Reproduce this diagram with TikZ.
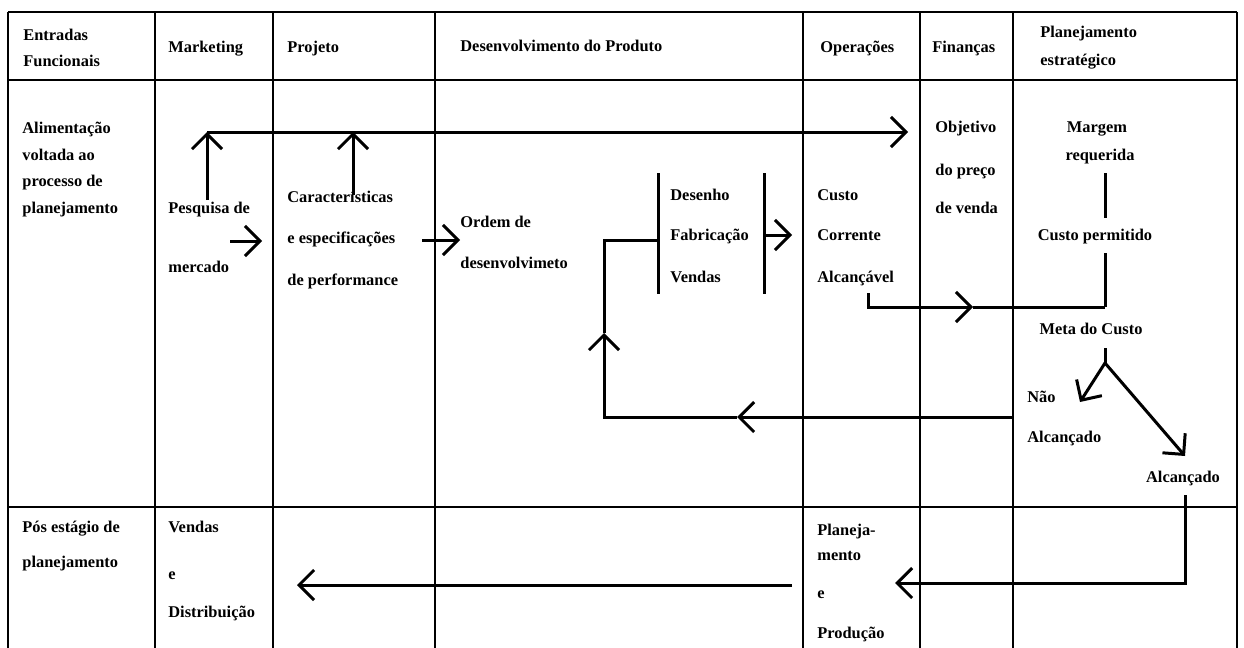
\documentclass[tikz,border=0pt]{standalone}
\usepackage{fontspec}
\setmainfont{Liberation Serif}
\usetikzlibrary{arrows.meta}
\tikzset{
lbl/.style={anchor=base west, inner sep=0pt, font=\bfseries\fontsize{8.2}{10}\selectfont}, % left aligned text
clbl/.style={lbl, anchor=base}, % centred text
grid/.style={line width=1.2pt}, % lines of the table
link/.style={line width=1.5pt, line join=miter}, % plain connector
arr/.style={link, -{Straight Barb[length=7.5pt,width=15pt,line width=1.5pt]}}, % connector with open tip
}

\begin{document}
\begin{tikzpicture}[x=0.5pt, y=-0.5pt]
\useasboundingbox (0,0) rectangle (1244,648);

% table
\draw[grid] (8,12) -- (1237,12);
\draw[grid] (8,80) -- (1237,80);
\draw[grid] (8,507) -- (1237,507);
\foreach \x in {8,155,273,435,803,920,1013,1237}
  \draw[grid] (\x,12) -- (\x,648);

% header
\node[lbl] at (23,40) (hEnt) {Entradas};
\node[lbl] at (23,66) (hFun) {Funcionais};
\node[lbl] at (168,53) (hMkt) {Marketing};
\node[lbl] at (287,53) (hPrj) {Projeto};
\node[lbl] at (460,52) (hDev) {Desenvolvimento do Produto};
\node[lbl] at (820,53) (hOpe) {Operações};
\node[lbl] at (932,53) (hFin) {Finanças};
\node[lbl] at (1040,37) (hPla) {Planejamento};
\node[lbl] at (1040,65) (hEst) {estratégico};

% planning stage
\node[lbl] at (22,133) (ali1) {Alimentação};
\node[lbl] at (22,160) (ali2) {voltada ao};
\node[lbl] at (22,186) (ali3) {processo de};
\node[lbl] at (22,213) (ali4) {planejamento};
\node[lbl] at (168,213) (pesq1) {Pesquisa de};
\node[lbl] at (168,272) (pesq2) {mercado};
\node[lbl] at (287,202) (car1) {Características};
\node[lbl] at (287,243) (car2) {e especificações};
\node[lbl] at (287,285) (car3) {de performance};
\node[lbl] at (460,227) (ord1) {Ordem de};
\node[lbl] at (460,268) (ord2) {desenvolvimeto};
\node[lbl] at (670,200) (des) {Desenho};
\node[lbl] at (670,240) (fab) {Fabricação};
\node[lbl] at (670,282) (ven) {Vendas};
\node[lbl] at (817,200) (cus1) {Custo};
\node[lbl] at (817,240) (cus2) {Corrente};
\node[lbl] at (817,282) (cus3) {Alcançável};
\node[lbl] at (935,132) (obj1) {Objetivo};
\node[lbl] at (935,175) (obj2) {do preço};
\node[lbl] at (935,213) (obj3) {de venda};
\node[clbl] at (1097,132) (mrg1) {Margem};
\node[clbl] at (1100,160) (mrg2) {requerida};
\node[clbl] at (1095,240) (cper) {Custo permitido};
\node[clbl] at (1091,334) (meta) {Meta do Custo};
\node[lbl] at (1027,402) (nao1) {Não};
\node[lbl] at (1027,442) (nao2) {Alcançado};
\node[clbl] at (1183,482) (sim) {Alcançado};

% post planning stage
\node[lbl] at (22,532) (pos1) {Pós estágio de};
\node[lbl] at (22,567) (pos2) {planejamento};
\node[lbl] at (168,532) (vd1) {Vendas};
\node[lbl] at (168,579) (vd2) {e};
\node[lbl] at (168,617) (vd3) {Distribuição};
\node[lbl] at (817,535) (pp1) {Planeja-};
\node[lbl] at (817,560) (pp2) {mento};
\node[lbl] at (817,598) (pp3) {e};
\node[lbl] at (817,638) (pp4) {Produção};

% connector points
\coordinate (pqE) at (230,241);
\coordinate (ctW) at (262,241);
\coordinate (pqN) at (207,200);
\coordinate (topL) at (207,132);
\coordinate (topR) at (908,132);
\coordinate (ctN) at (353,195);
\coordinate (ctT) at (353,132);
\coordinate (prjE) at (422,240);
\coordinate (ordW) at (460,240);
\coordinate (bkL1) at (658,173);
\coordinate (bkL2) at (658,294);
\coordinate (bkR1) at (764,173);
\coordinate (bkR2) at (764,294);
\coordinate (bkRm) at (764,235);
\coordinate (cusW) at (792,235);
\coordinate (bkLm) at (658,240);
\coordinate (ret1) at (1013,417);
\coordinate (ret2) at (737,417);
\coordinate (ret3) at (604,417);
\coordinate (ret4) at (604,333);
\coordinate (ret5) at (604,240);
\coordinate (alc1) at (868,293);
\coordinate (alc3) at (973,307);
\coordinate (pmJ) at (1105,307);
\coordinate (mrgS) at (1105,173);
\coordinate (cpN) at (1105,218);
\coordinate (cpS) at (1105,253);
\coordinate (mtS) at (1105,348);
\coordinate (mtF) at (1105,363);
\coordinate (naoT) at (1080,402);
\coordinate (simT) at (1185,456);
\coordinate (simS) at (1185,495);
\coordinate (ppE) at (895,583);
\coordinate (ppW) at (792,585);
\coordinate (vdE) at (297,585);

% connectors
\draw[arr] (pqE) -- (ctW);
\draw[arr] (pqN) -- (topL);
\draw[arr] (topL) -- (topR);
\draw[arr] (ctN) -- (ctT);
\draw[arr] (prjE) -- (ordW);
\draw[link] (bkL1) -- (bkL2);
\draw[link] (bkR1) -- (bkR2);
\draw[arr] (bkRm) -- (cusW);
\draw[arr] (ret1) -- (ret2);
\draw[arr] (ret2) -- (ret3) -- (ret4);
\draw[link] (ret4) -- (ret5) -- (bkLm);
\draw[arr] (alc1) |- (alc3);
\draw[link] (alc3) -- (pmJ);
\draw[link] (mrgS) -- (cpN);
\draw[link] (cpS) -- (pmJ);
\draw[link] (mtS) -- (mtF);
\draw[arr] (mtF) -- (naoT);
\draw[arr] (mtF) -- (simT);
\draw[arr] (simS) |- (ppE);
\draw[arr] (ppW) -- (vdE);
\end{tikzpicture}
\end{document}
